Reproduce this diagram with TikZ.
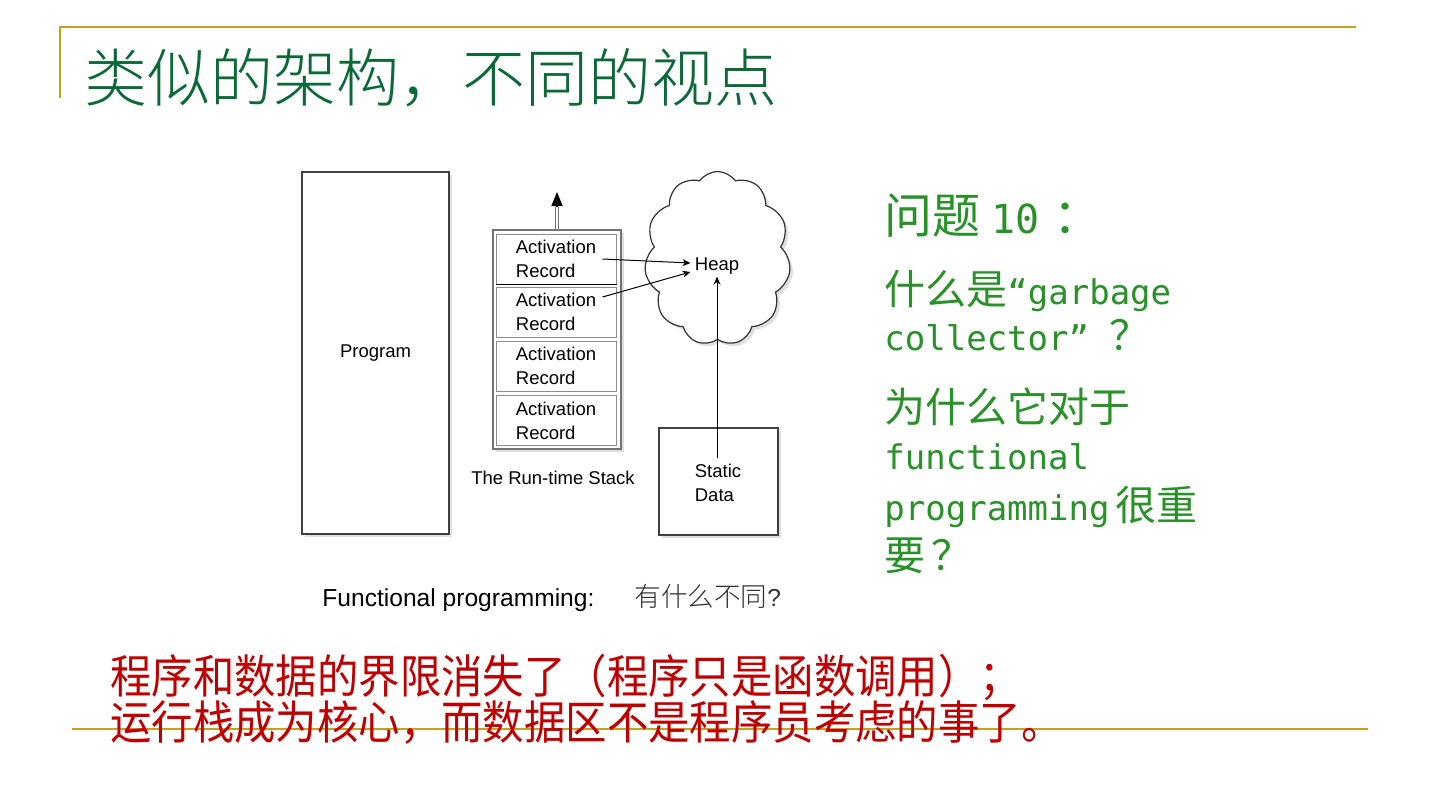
\documentclass[tikz,border=0pt]{standalone}
\usepackage{fontspec}
\setmainfont{Liberation Sans}
\newfontfamily\cjk{Noto Sans CJK SC}
\newfontfamily\cjkl{Noto Sans CJK SC}[UprightFont={* Light}]
\newfontfamily\cjkn{Noto Sans CJK SC}[FakeStretch=0.9]
\newfontfamily\monof{DejaVu Sans Mono}
\usetikzlibrary{arrows.meta,shapes.symbols,shadows}
\definecolor{gold}{RGB}{201,160,22}
\definecolor{titlegreen}{RGB}{10,105,55}
\definecolor{qgreen}{RGB}{40,145,40}
\definecolor{redtxt}{RGB}{192,0,0}
\tikzset{
  shadowed/.style={drop shadow={shadow xshift=1.5pt,shadow yshift=-1.5pt,opacity=0.25}},
  box/.style={draw=black!75, line width=0.6pt, fill=white, shadowed, inner sep=0pt},
  rec/.style={draw=black!45, line width=0.5pt, fill=white, inner sep=0pt,
    minimum width=60pt, minimum height=25pt, align=left,
    font=\fontsize{9.25}{12}\selectfont},
  dlabel/.style={inner sep=0pt, font=\fontsize{9.25}{12}\selectfont},
  txt/.style={inner sep=0pt, anchor=base west},
  goldline/.style={draw=gold, line width=1.4pt},
  thinarrow/.style={-{Stealth[length=4pt,width=3.5pt]}, line width=0.5pt, black}
}
\begin{document}
\begin{tikzpicture}[x=0.5pt,y=-0.5pt]
\useasboundingbox (0,0) rectangle (1440,810);
\fill[white] (0,0) rectangle (1440,810);
% gold frame lines
\draw[goldline] (60,98) -- (60,27) -- (1356,27);
\draw[goldline] (72,729) -- (1368,729);
% title
\node[txt, text=titlegreen, font=\cjkl\fontsize{31.5}{36}\selectfont] (title) at (84,101) {类似的架构，不同的视点};
% Program box
\node[box, minimum width=73.5pt, minimum height=181pt, font=\fontsize{9.25}{12}\selectfont] (program) at (375.5,353) {Program};
% stack
\node[box, draw=black!55, minimum width=64pt, minimum height=109.5pt] (stack) at (557,339.5) {};
\node[rec] (r1) at (556,259) {Activation\\Record};
\node[rec] (r2) at (556,312) {Activation\\Record};
\node[rec] (r3) at (556,366) {Activation\\Record};
\node[rec] (r4) at (556,420.5) {Activation\\Record};
\draw[black, line width=0.8pt] (r1.south west) -- (r1.south east);
\node[dlabel] (stacklbl) at (553,478) {The Run-time Stack};
% up arrow
\coordinate (upmid) at (557,207);
\coordinate (uptip) at (557,192);
\draw[draw=black!55, double=white, line width=0.5pt, double distance=1.2pt] (stack.north) -- (upmid);
\draw[-{Triangle[length=7pt,width=5.5pt]}, line width=0.8pt, black] (upmid) -- (uptip);
% heap cloud
\node[cloud, draw=black!80, line width=0.6pt, fill=white, cloud puffs=11, cloud puff arc=110, aspect=0.84,
  minimum width=73pt, minimum height=87pt, inner sep=0pt, shadowed] (cloud) at (717.5,258.5) {};
\node[dlabel] (heap) at (717,266) {Heap};
% static data
\node[box, minimum width=59.5pt, minimum height=53.5pt] (static) at (718.5,481.5) {};
\node[dlabel, align=left] (staticlbl) at (718,483) {Static\\Data};
% arrows
\draw[thinarrow] ([shift={(-14,0)}]r1.east) -- ([shift={(-4,-3)}]heap.west);
\draw[thinarrow] ([shift={(-14,-15)}]r2.east) -- ([shift={(-4,6)}]heap.west);
\draw[thinarrow] ([yshift=3pt]staticlbl.north -| heap.south) -- ([shift={(0,2)}]heap.south);
% caption
\node[inner sep=0pt, anchor=west, font=\fontsize{12.3}{14}\selectfont] (caption) at (322,598)
  {Functional programming:\hspace{20pt}{\cjkl\color{black!80}\fontsize{13.3}{14}\selectfont 有什么不同}{\color{black!80}?}};
% right questions
\node[txt, text=qgreen] (q1) at (884,233) {\cjk\fontsize{24}{28}\selectfont 问题 {\monof\fontsize{20}{24}\selectfont 10}\hspace{7pt}：};
\node[txt, text=qgreen] (q2) at (884,304) {\cjk\fontsize{20.5}{24}\selectfont 什么是{\monof\fontsize{17}{20}\selectfont “garbage}};
\node[txt, text=qgreen] (q3) at (884,350) {{\monof\fontsize{17}{20}\selectfont collector” }\cjk\fontsize{20.5}{24}\selectfont ？};
\node[txt, text=qgreen] (q4) at (884,422) {\cjk\fontsize{20.5}{24}\selectfont 为什么它对于};
\node[txt, text=qgreen] (q5) at (884,469) {\monof\fontsize{17}{20}\selectfont functional};
\node[txt, text=qgreen] (q6) at (884,520) {{\monof\fontsize{17}{20}\selectfont programming}\hspace{3pt}\cjk\fontsize{20.5}{24}\selectfont 很重};
\node[txt, text=qgreen] (q7) at (884,570) {\cjk\fontsize{20.5}{24}\selectfont 要\hspace{3pt}？};
% bottom red text
\node[txt, text=redtxt, font=\cjkn\fontsize{23}{26}\selectfont] (b1) at (110,693) {程序和数据的界限消失了（程序只是函数调用）；};
\node[txt, text=redtxt, font=\cjkn\fontsize{23}{26}\selectfont] (b2) at (110,739) {运行栈成为核心，而数据区不是程序员考虑的事了。};
\end{tikzpicture}
\end{document}
